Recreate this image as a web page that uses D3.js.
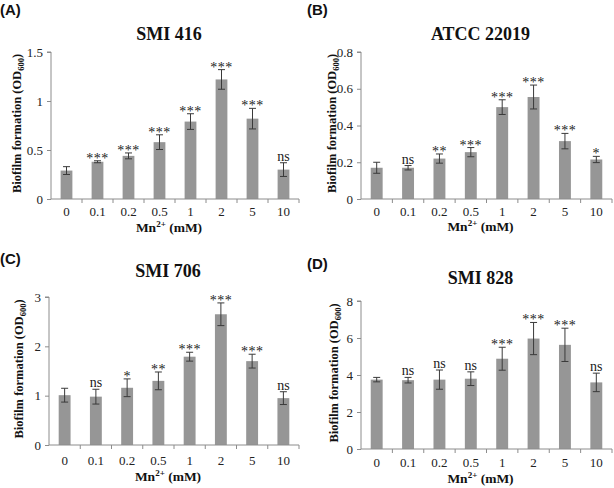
<!DOCTYPE html>
<html>
<head>
<meta charset="utf-8">
<script src="https://cdn.jsdelivr.net/npm/d3@7"></script>
<style>
  html, body { margin: 0; padding: 0; background: #fff; }
  svg { display: block; }
</style>
</head>
<body>
<svg id="chart" width="614" height="488"></svg>
<script>
// ---------- data ----------
const categories = ["0", "0.1", "0.2", "0.5", "1", "2", "5", "10"];

const panelLabels = ["(A)", "(B)", "(C)", "(D)"];
const titles = ["SMI 416", "ATCC 22019", "SMI 706", "SMI 828"];

const valuesA = [0.29, 0.38, 0.44, 0.58, 0.79, 1.22, 0.82, 0.30];
const errorsA = [0.04, 0.01, 0.03, 0.075, 0.08, 0.10, 0.105, 0.07];
const sigA = ["", "***", "***", "***", "***", "***", "***", "ns"];
const ticksA = [0, 0.5, 1, 1.5];

const valuesB = [0.17, 0.17, 0.22, 0.255, 0.50, 0.555, 0.315, 0.215];
const errorsB = [0.03, 0.012, 0.025, 0.025, 0.04, 0.065, 0.042, 0.017];
const sigB = ["", "ns", "**", "***", "***", "***", "***", "*"];
const ticksB = [0, 0.2, 0.4, 0.6, 0.8];

const valuesC = [1.01, 0.98, 1.16, 1.30, 1.79, 2.65, 1.70, 0.95];
const errorsC = [0.14, 0.15, 0.18, 0.18, 0.09, 0.23, 0.14, 0.13];
const sigC = ["", "ns", "*", "**", "***", "***", "***", "ns"];
const ticksC = [0, 1, 2, 3];

const valuesD = [3.75, 3.72, 3.75, 3.80, 4.88, 5.97, 5.63, 3.60];
const errorsD = [0.12, 0.15, 0.52, 0.37, 0.62, 0.87, 0.90, 0.50];
const sigD = ["", "ns", "ns", "ns", "***", "***", "***", "ns"];
const ticksD = [0, 2, 4, 6, 8];

const yMax = [1.5, 0.8, 3, 8];
const tickFormats = [d3.format(""), d3.format(""), d3.format("d"), d3.format("d")];

const panelValues = [valuesA, valuesB, valuesC, valuesD];
const panelErrors = [errorsA, errorsB, errorsC, errorsD];
const panelSig = [sigA, sigB, sigC, sigD];
const panelTicks = [ticksA, ticksB, ticksC, ticksD];

// ---------- layout ----------
const layouts = [
  { ox: 0,   oy: 0,   x0: 51,  x1: 299, y0: 199, y1: 52,  labY: 15,  titleY: 40,  tickY: 216, mnY: 232, ylabX: 21 },
  { ox: 307, oy: 0,   x0: 361, x1: 612, y0: 199, y1: 52,  labY: 15,  titleY: 40,  tickY: 216, mnY: 231, ylabX: 336 },
  { ox: 0,   oy: 244, x0: 49,  x1: 299, y0: 445, y1: 297, labY: 264, titleY: 277, tickY: 465, mnY: 481, ylabX: 23 },
  { ox: 307, oy: 244, x0: 361, x1: 612, y0: 449, y1: 301, labY: 269, titleY: 284, tickY: 467, mnY: 483, ylabX: 338 }
];

const serif = "'Liberation Serif', 'Times New Roman', Times, serif";
const sans = "'Liberation Sans', Arial, Helvetica, sans-serif";
const barColor = "#969696";
const axisColor = "#8c8c8c";
const errColor = "#3a3a3a";

const svg = d3.select("#chart");

layouts.forEach((L, i) => {
  const g = svg.append("g");
  const x = d3.scaleBand().domain(categories).range([L.x0, L.x1]).paddingInner(0.62).paddingOuter(0.31);
  const y = d3.scaleLinear().domain([0, yMax[i]]).range([L.y0, L.y1]);
  const vals = panelValues[i], errs = panelErrors[i], sig = panelSig[i];
  const data = categories.map((c, k) => ({ c, v: vals[k], e: errs[k], s: sig[k] }));

  // panel letter
  g.append("text").attr("x", L.ox + 0).attr("y", L.labY)
    .attr("font-family", sans).attr("font-weight", "bold").attr("font-size", 15)
    .attr("fill", "#111").text(panelLabels[i]);

  // title
  const cx = (L.x0 + L.x1) / 2;
  g.append("text").attr("x", cx - 6).attr("y", L.titleY)
    .attr("text-anchor", "middle").attr("font-family", serif).attr("font-weight", "bold")
    .attr("font-size", 18).attr("fill", "#111").text(titles[i]);

  // bars
  g.selectAll("rect.bar").data(data).enter().append("rect")
    .attr("x", d => x(d.c)).attr("width", x.bandwidth())
    .attr("y", d => y(d.v)).attr("height", d => y(0) - y(d.v))
    .attr("fill", barColor);

  // error bars
  const cap = 3.5;
  const eb = g.selectAll("g.err").data(data).enter().append("g")
    .attr("stroke", errColor).attr("stroke-width", 1).attr("fill", "none");
  eb.append("line")
    .attr("x1", d => x(d.c) + x.bandwidth() / 2).attr("x2", d => x(d.c) + x.bandwidth() / 2)
    .attr("y1", d => y(d.v - d.e)).attr("y2", d => y(d.v + d.e));
  eb.append("line")
    .attr("x1", d => x(d.c) + x.bandwidth() / 2 - cap).attr("x2", d => x(d.c) + x.bandwidth() / 2 + cap)
    .attr("y1", d => y(d.v + d.e)).attr("y2", d => y(d.v + d.e));
  eb.append("line")
    .attr("x1", d => x(d.c) + x.bandwidth() / 2 - cap).attr("x2", d => x(d.c) + x.bandwidth() / 2 + cap)
    .attr("y1", d => y(d.v - d.e)).attr("y2", d => y(d.v - d.e));

  // significance
  g.selectAll("text.sig").data(data.filter(d => d.s)).enter().append("text")
    .attr("x", d => x(d.c) + x.bandwidth() / 2)
    .attr("y", d => d.s === "ns" ? y(d.v + d.e) - 2 : y(d.v + d.e) + 2)
    .attr("text-anchor", "middle").attr("font-family", serif)
    .attr("font-size", 14)
    .attr("letter-spacing", d => d.s === "ns" ? 0 : 0.5)
    .attr("fill", "#222").text(d => d.s);

  // y axis
  const yAxis = d3.axisLeft(y).tickValues(panelTicks[i]).tickFormat(tickFormats[i]).tickSize(4).tickPadding(4);
  const ya = g.append("g").attr("transform", `translate(${L.x0},0)`).call(yAxis);
  ya.select(".domain").attr("stroke", axisColor).attr("d", `M-4,${L.y1}H0V${L.y0}`);
  ya.selectAll(".tick line").attr("stroke", axisColor);
  ya.selectAll(".tick text").attr("font-family", serif).attr("font-size", 13).attr("fill", "#222");

  // x axis: line plus tick marks at band boundaries
  g.append("line").attr("x1", L.x0).attr("x2", L.x1).attr("y1", L.y0).attr("y2", L.y0)
    .attr("stroke", axisColor);
  const step = x.step();
  const bounds = d3.range(categories.length + 1).map(k => x(categories[0]) - x.paddingOuter() * step + k * step);
  g.selectAll("line.xt").data(bounds.slice(1)).enter().append("line")
    .attr("x1", d => d).attr("x2", d => d).attr("y1", L.y0).attr("y2", L.y0 + 4)
    .attr("stroke", axisColor);

  // x tick labels
  g.selectAll("text.xl").data(categories).enter().append("text")
    .attr("x", d => x(d) + x.bandwidth() / 2).attr("y", L.tickY)
    .attr("text-anchor", "middle").attr("font-family", serif).attr("font-size", 13)
    .attr("fill", "#222").text(d => d);

  // x axis label
  const mn = g.append("text").attr("x", cx - 6).attr("y", L.mnY)
    .attr("text-anchor", "middle").attr("font-family", serif).attr("font-weight", "bold")
    .attr("font-size", 13.5).attr("fill", "#111");
  mn.append("tspan").text("Mn");
  mn.append("tspan").attr("font-size", 9).attr("dy", -5).text("2+");
  mn.append("tspan").attr("dy", 5).text(" (mM)");

  // y axis label
  const ycy = (L.y0 + L.y1) / 2 - 2;
  const yl = g.append("text")
    .attr("transform", `translate(${L.ylabX},${ycy}) rotate(-90)`)
    .attr("text-anchor", "middle").attr("font-family", serif).attr("font-weight", "bold")
    .attr("font-size", 12.5).attr("fill", "#111");
  yl.append("tspan").text("Biofilm formation (OD");
  yl.append("tspan").attr("font-size", 8.5).attr("dy", 3).text("600");
  yl.append("tspan").attr("dy", -3).text(")");
});
</script>
</body>
</html>
